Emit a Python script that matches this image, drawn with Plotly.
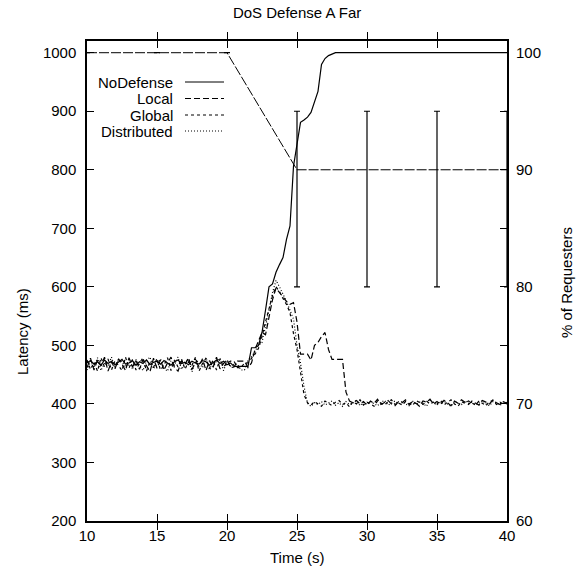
import numpy as np
import plotly.graph_objects as go

# Sample times (s), one every 0.25 s from 10 to 40
time_s = np.round(np.arange(10.0, 40.001, 0.25), 2).tolist()

# Latency (ms) per defense, rows of 2.5 s each
no_defense = [
    470, 474, 468, 472, 466, 475, 469, 473, 467, 471,
    476, 468, 470, 474, 466, 472, 469, 475, 467, 471,
    473, 468, 474, 470, 466, 472, 475, 469, 471, 467,
    473, 470, 468, 474, 472, 466, 471, 475, 469, 473,
    467, 470, 464, 464, 464, 464, 464, 496, 496, 500,
    522, 560, 600, 605, 625, 638, 650, 681, 704, 806,
    840, 881, 885, 890, 898, 917, 934, 980, 990, 995,
    998, 1000, 1000, 1000, 1000, 1000, 1000, 1000, 1000, 1000,
    1000, 1000, 1000, 1000, 1000, 1000, 1000, 1000, 1000, 1000,
    1000, 1000, 1000, 1000, 1000, 1000, 1000, 1000, 1000, 1000,
    1000, 1000, 1000, 1000, 1000, 1000, 1000, 1000, 1000, 1000,
    1000, 1000, 1000, 1000, 1000, 1000, 1000, 1000, 1000, 1000,
    1000,
]
local = [
    462, 478, 458, 475, 465, 480, 456, 472, 460, 477,
    468, 457, 479, 463, 474, 459, 476, 466, 455, 478,
    461, 475, 458, 470, 480, 462, 456, 473, 467, 479,
    459, 471, 464, 477, 457, 474, 462, 480, 460, 469,
    476, 462, 463, 473, 473, 473, 462, 470, 493, 507,
    522, 518, 550, 578, 598, 590, 582, 575, 570, 573,
    540, 485, 485, 485, 475, 500, 505, 515, 522, 493,
    476, 476, 476, 476, 420, 405, 402, 406, 400, 404,
    398, 405, 401, 408, 399, 403, 406, 400, 397, 404,
    402, 407, 399, 404, 401, 396, 405, 403, 408, 400,
    404, 399, 406, 402, 397, 405, 401, 407, 403, 399,
    405, 401, 398, 406, 403, 400, 407, 402, 399, 404,
    401,
]
global_ = [
    475, 459, 471, 456, 479, 463, 477, 458, 474, 465,
    457, 480, 461, 476, 458, 470, 479, 456, 473, 462,
    478, 458, 466, 479, 457, 475, 463, 477, 459, 472,
    466, 480, 456, 469, 478, 461, 475, 458, 477, 463,
    470, 473, 473, 462, 462, 470, 470, 478, 485, 495,
    515, 540, 565, 585, 600, 592, 580, 570, 556, 520,
    493, 454, 416, 402, 398, 404, 400, 396, 405, 401,
    397, 403, 406, 399, 402, 395, 404, 400, 407, 398,
    403, 400, 396, 405, 401, 398, 404, 407, 399, 402,
    398, 404, 401, 397, 406, 402, 399, 405, 400, 403,
    400, 406, 398, 403, 407, 400, 396, 404, 401, 405,
    402, 398, 405, 401, 397, 404, 406, 399, 403, 400,
    403,
]
distributed = [
    458, 473, 462, 479, 457, 470, 465, 480, 461, 476,
    472, 463, 478, 459, 476, 465, 457, 474, 480, 460,
    469, 477, 461, 456, 474, 466, 480, 459, 472, 476,
    455, 476, 470, 462, 479, 458, 466, 473, 478, 457,
    472, 465, 468, 468, 458, 458, 475, 480, 490, 500,
    505, 530, 560, 590, 611, 600, 588, 575, 560, 545,
    500, 470, 430, 401, 396, 402, 399, 404, 398, 401,
    405, 398, 402, 396, 404, 399, 401, 406, 397, 403,
    399, 404, 401, 397, 403, 406, 398, 402, 405, 400,
    404, 400, 397, 405, 399, 403, 401, 396, 406, 402,
    398, 403, 405, 400, 396, 404, 402, 399, 405, 401,
    403, 399, 401, 406, 400, 397, 404, 402, 398, 401,
    400,
]

# Share of requesters served (%), with asymmetric error bars
req_time = [10, 15, 20, 25, 30, 35, 40]
req_pct = [100, 100, 100, 90, 90, 90, 90]
req_err_plus = [0, 0, 0, 5, 5, 5, 5]
req_err_minus = [0, 0, 0, 10, 10, 10, 10]

series = [
    ("NoDefense", no_defense, "solid"),
    ("Local", local, "6px,3px"),
    ("Global", global_, "3px,3px"),
    ("Distributed", distributed, "1px,2px"),
]

FONT = "Liberation Sans, Arial, Helvetica, sans-serif"
FS = 15
fig = go.Figure()

for name, vals, dash in series:
    fig.add_trace(go.Scatter(
        x=time_s, y=vals, mode="lines", name=name, showlegend=False,
        line=dict(color="black", width=1.2, dash=dash),
    ))

fig.add_trace(go.Scatter(
    x=req_time, y=req_pct, yaxis="y2", mode="lines", showlegend=False,
    line=dict(color="black", width=1, dash="10px,2px"),
    error_y=dict(type="data", symmetric=False, array=req_err_plus,
                 arrayminus=req_err_minus, color="black", thickness=1.2, width=3),
))

# Plot-area pixel frame, used to place the key and axis labels
x0, x1 = 87, 507
y0, y1 = 521, 41
def px(v):
    return (v - x0) / (x1 - x0)
def py(v):
    return (y0 - v) / (y0 - y1)

# gnuplot-style key: right-aligned names with line samples to their right
key_rows = [82, 98.5, 115, 131]
annotations = []
shapes = []
for (name, _, dash), row in zip(series, key_rows):
    annotations.append(dict(
        x=px(175), y=py(row), xref="paper", yref="paper", text=name,
        showarrow=False, xanchor="right", yanchor="middle",
        font=dict(family=FONT, size=FS, color="black"),
    ))
    shapes.append(dict(
        type="line", xref="paper", yref="paper",
        x0=px(185), x1=px(224), y0=py(row), y1=py(row),
        line=dict(color="black", width=1, dash=dash),
    ))

# Axis labels
annotations += [
    dict(x=px(22), y=py(332), xref="paper", yref="paper", text="Latency (ms)",
         textangle=-90, showarrow=False, xanchor="center", yanchor="middle",
         font=dict(family=FONT, size=FS, color="black")),
    dict(x=px(566), y=py(283), xref="paper", yref="paper", text="% of Requesters",
         textangle=-90, showarrow=False, xanchor="center", yanchor="middle",
         font=dict(family=FONT, size=FS, color="black")),
    dict(x=px(297), y=py(557), xref="paper", yref="paper", text="Time (s)",
         showarrow=False, xanchor="center", yanchor="middle",
         font=dict(family=FONT, size=FS, color="black")),
]

fig.update_layout(
    width=578, height=569,
    margin=dict(l=87, r=71, t=41, b=48),
    paper_bgcolor="white", plot_bgcolor="white",
    font=dict(family=FONT, size=FS, color="black"),
    title=dict(text="DoS Defense A Far", x=0.514, xanchor="center",
               y=0.978, yanchor="middle", font=dict(size=FS)),
    annotations=annotations, shapes=shapes,
    xaxis=dict(
        range=[10, 40], tickvals=[10, 15, 20, 25, 30, 35, 40],
        ticks="inside", ticklen=7, tickwidth=1, tickcolor="black",
        ticklabelstandoff=0,
        showline=True, linecolor="black", linewidth=1.5, mirror="allticks",
        showgrid=False, zeroline=False,
    ),
    yaxis=dict(
        range=[200, 1020], tickvals=list(range(200, 1001, 100)),
        ticks="inside", ticklen=7, tickwidth=1, tickcolor="black",
        ticklabelstandoff=6,
        showline=True, linecolor="black", linewidth=1.5, mirror=True,
        showgrid=False, zeroline=False,
    ),
    yaxis2=dict(
        range=[60, 101], overlaying="y", side="right",
        tickvals=list(range(60, 101, 5)),
        ticktext=[str(v) if v % 10 == 0 else "" for v in range(60, 101, 5)],
        ticks="inside", ticklen=7, tickwidth=1, tickcolor="black",
        ticklabelstandoff=8,
        showline=False, showgrid=False, zeroline=False,
    ),
)

fig.write_html("out.html")
